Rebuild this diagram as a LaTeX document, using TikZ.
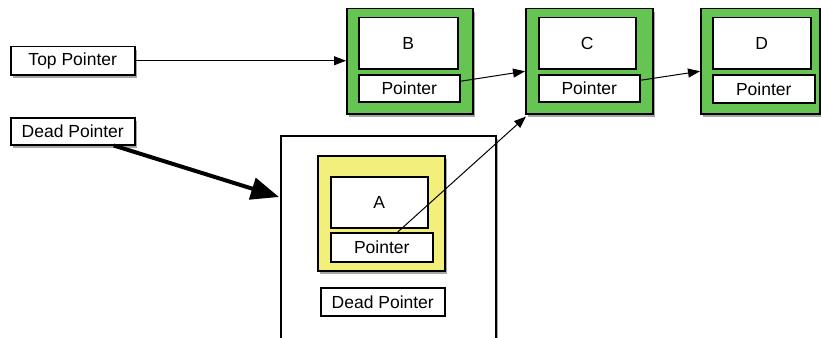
\documentclass[tikz,border=0pt]{standalone}
\usepackage{fontspec}
\setmainfont{Liberation Sans}
\usetikzlibrary{arrows.meta,shadows,calc}
\definecolor{gboxfill}{RGB}{102,197,82}
\definecolor{yboxfill}{RGB}{242,240,122}
\begin{document}
\begin{tikzpicture}[x=1pt,y=-1pt,
  every node/.style={font=\fontsize{17.5}{20}\selectfont, inner sep=0pt, anchor=north west},
  wbox/.style={draw=black, line width=1.5pt, fill=white},
  shad/.style={drop shadow={shadow xshift=2pt, shadow yshift=-3.5pt, opacity=0.35, fill=black}},
  sbox/.style={wbox, shad},
  gbox/.style={draw=black, line width=1.5pt, fill=gboxfill, shad},
  ybox/.style={draw=black, line width=1.5pt, fill=yboxfill, shad},
  conn/.style={draw=black, line width=1pt, -{Triangle[length=12pt,width=9pt]}},
  thick conn/.style={draw=black, line width=4pt, -{Triangle[length=28pt,width=22pt]}}
]
\useasboundingbox (0,0) rectangle (821,337);
\clip (0,0) rectangle (821,337);
% left pointers
\node[sbox, minimum width=124pt, minimum height=28pt] (top) at (10,46) {Top Pointer};
\node[sbox, minimum width=124pt, minimum height=27pt] (dead) at (10,117) {Dead Pointer};
% B
\node[gbox, minimum width=126pt, minimum height=105pt] (Bg) at (346,8) {};
\node[wbox, minimum width=99pt, minimum height=51pt] (Bin) at (358,17) {B};
\node[wbox, minimum width=101pt, minimum height=27pt] (Bp) at (358,74) {Pointer};
% C
\node[gbox, minimum width=127pt, minimum height=105pt] (Cg) at (525,8) {};
\node[wbox, minimum width=97pt, minimum height=51pt] (Cin) at (538,17) {C};
\node[wbox, minimum width=101pt, minimum height=27pt] (Cp) at (538,74) {Pointer};
% D
\node[gbox, minimum width=119pt, minimum height=105pt] (Dg) at (700,8) {};
\node[wbox, minimum width=98pt, minimum height=51pt] (Din) at (712,17) {D};
\node[wbox, minimum width=102pt, minimum height=28pt] (Dp) at (712,74) {Pointer};
% big dead box
\node[sbox, minimum width=215pt, minimum height=220pt] (big) at (280,135) {};
\node[ybox, minimum width=127pt, minimum height=115pt] (Ay) at (317,155) {};
\node[wbox, minimum width=97pt, minimum height=51pt] (Ain) at (330,176) {A};
\node[wbox, minimum width=102pt, minimum height=29pt] (Ap) at (330,232) {Pointer};
\node[wbox, minimum width=124pt, minimum height=28pt] (deadin) at (320,287) {Dead Pointer};
% connectors
\draw[conn] (top.east) -- (top.east -| Bg.west);
\draw[conn] ($(Bp.east)+(0,-7)$) -- ($(Cg.west)+(0,10)$);
\draw[conn] ($(Cp.east)+(0,-8)$) -- ($(Dg.west)+(0,10)$);
\draw[conn] ($(Ap.north)+(16,0)$) -- ($(Cg.south west)+(1,2)$);
\draw[thick conn] ($(dead.south)+(41,0)$) -- ($(big.north west)+(-1,62)$);
\end{tikzpicture}
\end{document}
